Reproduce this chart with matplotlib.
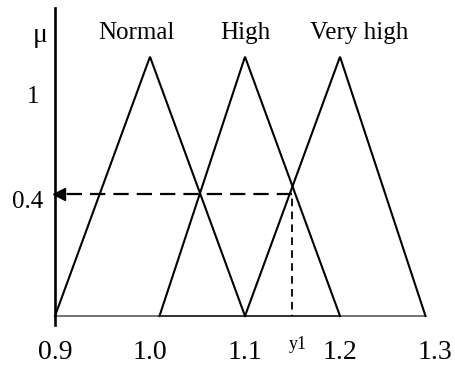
import matplotlib
matplotlib.use("Agg")
import matplotlib.pyplot as plt
import matplotlib.transforms as mtransforms

plt.rcParams['font.family'] = ['Liberation Serif', 'DejaVu Serif']
plt.rcParams['lines.scale_dashes'] = False

# fuzzy sets: triangle corners (left foot, peak, right foot)
set_names = ['Normal', 'High', 'Very high']
feet_left = [0.9, 1.01, 1.1]
peaks = [1.0, 1.1, 1.2]
feet_right = [1.1, 1.2, 1.29]
peak_mu = 0.85

mu_cut = 0.4
y1 = 1.15

x_ticks = [0.9, 1.0, 1.1, 1.2, 1.3]
x_tick_labels = ['0.9', '1.0', '1.1', '1.2', '1.3']

fig = plt.figure(figsize=(4.56, 3.66), dpi=100)
ax = fig.add_axes([55 / 456, 41 / 366, 399 / 456, 317 / 366])
ax.set_xlim(0.9, 1.32)
ax.set_ylim(-0.0295, 1.0098)

for a, b, c in zip(feet_left, peaks, feet_right):
    ax.plot([a, b, c], [0, peak_mu, 0], color='black', lw=1.5,
            solid_joinstyle='miter', clip_on=False)
    ax.plot([a, c], [0, 0], color='black', lw=1.1, alpha=0.7,
            solid_capstyle='butt')

# names above the triangles
label_x = [0.986, 1.1, 1.22]
for name, lx in zip(set_names, label_x):
    ax.text(lx, 0.908, name, ha='center', va='baseline', fontsize=18)

# alpha-cut: dashed line back to the mu axis, then down to y1
ax.plot([y1, 0.9], [mu_cut, mu_cut], color='black', lw=1.6,
        ls=(0, (11, 5.8)), dash_capstyle='butt')
ax.plot([y1, y1], [mu_cut, 0], color='black', lw=1.3,
        ls=(6, (5.5, 3.8)), dash_capstyle='butt')
shift = mtransforms.ScaledTranslation(0.035, 0, fig.dpi_scale_trans)
ax.plot([0.9], [mu_cut], marker='<', ms=9.2, color='black', lw=0,
        transform=ax.transData + shift, clip_on=False)

ax.annotate('0.4', xy=(0.9, mu_cut), xytext=(-8.6, -5.8),
            textcoords='offset points', ha='right', va='center', fontsize=18)
ax.text(-0.055, 0.719, '1', transform=ax.transAxes, ha='center',
        va='center', fontsize=18)
ax.text(-0.038, 0.912, 'μ', transform=ax.transAxes, ha='center',
        va='center', fontsize=20)
ax.annotate('y1', xy=(y1, 0), xytext=(3.6, -14.4),
            textcoords='offset points', ha='center', va='top', fontsize=13)

ax.set_xticks(x_ticks, x_tick_labels, fontsize=20)
ax.tick_params(axis='x', length=0, pad=11)
ax.set_yticks([])

for side in ['top', 'right', 'bottom']:
    ax.spines[side].set_visible(False)
ax.spines['left'].set_linewidth(1.9)

fig.savefig('out.png', dpi=100)
